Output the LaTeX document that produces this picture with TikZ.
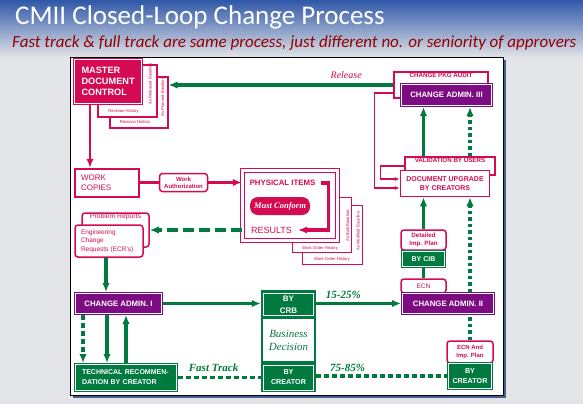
\documentclass[tikz,border=0pt]{standalone}
\usepackage{fontspec}
\setmainfont{Liberation Serif}
\setsansfont{Liberation Sans}
\newfontfamily\slidefont{Carlito}
\usetikzlibrary{arrows.meta}

\definecolor{cmred}{RGB}{212,10,82}
\definecolor{cmpurple}{RGB}{125,12,130}
\definecolor{cmgreen}{RGB}{0,122,62}
\definecolor{subred}{RGB}{150,0,0}
\definecolor{hdrblue}{RGB}{48,88,168}
\definecolor{slidebg}{RGB}{228,229,232}
\definecolor{frameshade}{RGB}{70,95,145}

\newcommand{\fsz}[2]{\fontsize{#1}{#2}\selectfont}

\tikzset{
  redbox/.style={draw=cmred, line width=1.3pt, fill=white, text=cmred, inner sep=0pt, align=center, font=\sffamily\bfseries\fsz{6.2}{7.4}},
  stackbox/.style={draw=cmred, line width=1.2pt, fill=white, inner sep=0pt},
  admbox/.style={fill=cmpurple, draw=cmpurple, double=white, double distance=0.6pt, line width=1.2pt, outer sep=1.5pt, text=white, inner sep=0pt, align=center, font=\sffamily\bfseries\fsz{7.8}{9}},
  grnbox/.style={admbox, fill=cmgreen, draw=cmgreen},
  fillred/.style={admbox, fill=cmred, draw=cmred},
  tinytxt/.style={text=cmred, inner sep=0pt, font=\sffamily\fsz{4.2}{5}},
  boxcap/.style={text=cmred, inner sep=1.5pt, font=\sffamily\bfseries\fsz{6.2}{7}},
  gline/.style={draw=cmgreen, line width=3.5pt},
  gdash/.style={gline, dash pattern=on 5pt off 3pt},
  rline/.style={draw=cmred, line width=2.6pt},
  rthin/.style={draw=cmred, line width=1.2pt, >={Latex[length=5pt,width=4pt]}},
  seriflbl/.style={text=cmgreen, inner sep=1pt, font=\rmfamily\bfseries\itshape\fsz{11}{12}},
}

\begin{document}
\begin{tikzpicture}[x=1pt, y=-1pt, >={Latex[length=9pt,width=7.5pt]}]
% slide
\useasboundingbox (0,0) rectangle (583,404);
\fill[slidebg] (0,0) rectangle (583,404);
\shade[top color=hdrblue, bottom color=slidebg] (0,0) rectangle (583,58);
\node[anchor=base west, inner sep=0pt, text=white, font=\slidefont\fsz{27}{30}] (title) at (15,25) {CMII Closed-Loop Change Process};
\node[anchor=base west, inner sep=0pt, text=subred, font=\slidefont\itshape\fsz{17}{19}] (subtitle) at (12,48) {Fast track \& full track are same process, just different no. or seniority of approvers};

% frame
\fill[frameshade] (73,60) rectangle (506,398);
\filldraw[fill=white, draw=black, line width=0.6pt] (70,57) rectangle (503,395);

% master document control
\node[stackbox, minimum width=58pt, minimum height=51pt] (mdcb) at (139,102.5) {};
\node[stackbox, minimum width=59pt, minimum height=52pt] (mdca) at (127.5,91) {};
\node[tinytxt] (mdcrevb) at (135,122.5) {Revision History};
\node[tinytxt] (mdcreva) at (123.5,111) {Revision History};
\node[tinytxt, rotate=90] (mdcbla) at (150,84) {As Released Baseline};
\node[tinytxt, rotate=90] (mdcblb) at (162.5,97) {As Planned Baseline};
\node[fillred, minimum width=67pt, minimum height=44pt, text width=53pt, align=left, font=\sffamily\bfseries\fsz{9.2}{11}] (mdc) at (108,81.5) {MASTER\\DOCUMENT\\CONTROL};

% change package audit
\node[redbox, line width=1.2pt, minimum width=94pt, minimum height=26pt, label={[boxcap, anchor=north]north:CHANGE PKG AUDIT}] (pkg) at (441,85) {};
\node[admbox, minimum width=90pt, minimum height=21pt] (cadm3) at (446.5,95) {CHANGE ADMIN. III};

% validation and document upgrade
\node[redbox, line width=1.2pt, minimum width=90pt, minimum height=18pt, label={[boxcap, anchor=north]north:VALIDATION BY USERS}] (val) at (450,166) {};
\node[redbox, line width=1.5pt, minimum width=89pt, minimum height=26pt, font=\sffamily\bfseries\fsz{7}{9.5}] (dup) at (445,183.5) {DOCUMENT UPGRADE\\BY CREATORS};

% implementation plan, CIB, change admin two
\node[redbox, rounded corners=3pt, line width=1.5pt, minimum width=45pt, minimum height=20pt] (dip) at (423.5,240) {Detailed\\Imp. Plan};
\node[grnbox, minimum width=42pt, minimum height=15pt, font=\sffamily\bfseries\fsz{7}{8}] (cib) at (423.5,259) {BY CIB};
\node[redbox, rounded corners=3pt, line width=1.5pt, minimum width=45pt, minimum height=14pt, font=\sffamily\fsz{6.5}{7}] (ecn) at (423.5,286) {ECN};
\node[admbox, minimum width=91pt, minimum height=20pt] (cadm2) at (448,303.5) {CHANGE ADMIN. II};
\node[redbox, rounded corners=3pt, line width=1.5pt, minimum width=46pt, minimum height=22pt, font=\sffamily\bfseries\fsz{6}{7.5}] (eip) at (470,352) {ECN And\\Imp. Plan};
\node[grnbox, minimum width=43pt, minimum height=25pt, font=\sffamily\bfseries\fsz{7.2}{9.5}] (bycrimp) at (470,376) {BY\\CREATOR};

% work copies and physical items
\node[redbox, line width=2.4pt, minimum width=64pt, minimum height=28pt, text width=52pt, align=left, font=\sffamily\fsz{8}{10}] (wc) at (107,183) {WORK\\COPIES};
\node[redbox, rounded corners=3pt, line width=1.5pt, minimum width=48pt, minimum height=18pt, font=\sffamily\bfseries\fsz{6}{6.8}] (wa) at (183.5,182.5) {Work\\Authorization};
\node[stackbox, minimum width=60pt, minimum height=59pt] (physb) at (332.5,235) {};
\node[stackbox, minimum width=59pt, minimum height=55pt] (physa) at (322,225) {};
\node[tinytxt] (physwob) at (332,259) {Work Order History};
\node[tinytxt] (physwoa) at (320,248) {Work Order History};
\node[tinytxt, rotate=90] (physbla) at (347.5,226) {As Built Baseline};
\node[tinytxt, rotate=90] (physblb) at (358,231) {As Modified Baseline};
\node[draw=cmred, fill=white, double=white, double distance=2.2pt, line width=1.4pt, minimum width=95pt, minimum height=70pt] (phys) at (290,205.5) {};
\node[text=cmred, inner sep=0pt, inner xsep=6pt, font=\sffamily\bfseries\fsz{7.8}{9}] (pitems) at (282.5,183) {PHYSICAL ITEMS};
\node[fill=cmred, text=white, rounded corners=8pt, minimum width=60pt, minimum height=18pt, inner sep=0pt, font=\rmfamily\bfseries\itshape\fsz{8.5}{9}] (conform) at (280,206) {Must Conform};
\node[text=cmred, inner sep=0pt, inner xsep=6pt, font=\sffamily\fsz{9}{10}] (results) at (271.5,230) {RESULTS};

% problem reports and ECRs
\node[redbox, rounded corners=3pt, line width=1.5pt, minimum width=67pt, minimum height=34pt, label={[boxcap, font=\sffamily\fsz{6.8}{7}, anchor=north, inner sep=1pt]north:Problem Reports}] (pr) at (115.5,230) {};
\node[redbox, rounded corners=3pt, line width=1.5pt, minimum width=68pt, minimum height=32pt, text width=56pt, align=left, font=\sffamily\fsz{6.5}{8.5}] (ecr) at (109,241) {Engineering\\Change\\Requests (ECR's)};

% change admin one and technical recommendation
\node[admbox, minimum width=86pt, minimum height=20pt] (cadm1) at (118.5,303.5) {CHANGE ADMIN. I};
\node[grnbox, minimum width=101pt, minimum height=26pt, text width=88pt, align=left, font=\sffamily\bfseries\fsz{7}{10}] (tech) at (126,377.5) {TECHNICAL RECOMMEN-\\DATION BY CREATOR};

% business decision column
\node[fill=cmgreen, minimum width=55pt, minimum height=102pt, inner sep=0pt] (bizcol) at (288.5,341) {};
\node[draw=white, line width=0.7pt, minimum width=50pt, minimum height=22pt, inner sep=0pt, text=white, align=center, font=\sffamily\bfseries\fsz{8}{12}] (crb) at (288.5,304.5) {BY\\CRB};
\node[fill=white, minimum width=51pt, minimum height=42pt, inner sep=0pt, text=cmgreen, align=center, font=\rmfamily\itshape\fsz{11}{13}] (biz) at (288.5,340) {Business\\Decision};
\node[draw=white, line width=0.7pt, minimum width=50pt, minimum height=25pt, inner sep=0pt, text=white, align=center, font=\sffamily\bfseries\fsz{7.2}{10}] (bycrmid) at (288.5,377.5) {BY\\CREATOR};

% crimson connectors
\draw[rline, ->] ([xshift=-18pt]mdc.south) -- ([xshift=-18pt]mdc.south |- wc.north);
\draw[rline] (wc.east |- wa.west) -- (wa.west);
\draw[rline, ->] (wa.east) -- (wa.east -| phys.west);
\draw[rline, line width=3.5pt, ->] (pitems.east) -- ++(7,0) |- (results.east);
\draw[rthin, ->] ([yshift=-8pt]pkg.west) -- ++(-19,0) |- ([yshift=-4.5pt]dup.west);
\draw[rthin, ->] (val.west) -- ++(-24,0) |- ([yshift=4.5pt]dup.west);

% green connectors
\draw[gline, ->] (pkg.west) -- (pkg.west -| mdcb.east)
  node[pos=0.21, above=1pt, text=cmred, font=\rmfamily\itshape\fsz{10}{11}] {Release};
\draw[gdash, dash pattern=on 11pt off 5pt, ->] (phys.west |- pr.east) -- (pr.east);
\draw[gline, ->] ([xshift=-3pt]ecr.south) -- ([xshift=-3pt]ecr.south |- cadm1.north);
\draw[gline, ->] (cadm1.east) -- (cadm1.east -| bizcol.west);
\draw[gdash, ->] ([xshift=9pt]cadm1.south west) -- ([xshift=9pt]cadm1.south west |- tech.north);
\draw[gline, ->] ([xshift=33pt]cadm1.south west) -- ([xshift=33pt]cadm1.south west |- tech.north);
\draw[gline, ->] (tech.north) -- (tech.north |- cadm1.south);
\draw[gdash] (tech.east) -- (tech.east -| bizcol.west)
  node[pos=0.43, above=3pt, seriflbl] {Fast Track};
\draw[gline, ->] (bizcol.east |- cadm2.west) -- (cadm2.west)
  node[pos=0.32, above=2pt, seriflbl] {15-25\%};
\draw[gdash] (bizcol.east |- bycrimp.west) -- (bycrimp.west)
  node[pos=0.24, above=2pt, seriflbl] {75-85\%};
\draw[gline] (ecn.north) -- (cib.south);
\draw[gline, ->] (dip.north) -- (dip.north |- dup.south);
\draw[gline, ->] (dip.north |- val.north) -- (dip.north |- cadm3.south);
\draw[gdash, dash pattern=on 3.5pt off 3pt] (eip.north) -- (eip.north |- cadm2.south);
\draw[gdash, dash pattern=on 3.5pt off 3pt, ->] (eip.north |- cadm2.north) -- (eip.north |- dup.south);
\draw[gdash, dash pattern=on 3.5pt off 3pt, ->] (eip.north |- val.north) -- (eip.north |- cadm3.south);
\end{tikzpicture}
\end{document}
